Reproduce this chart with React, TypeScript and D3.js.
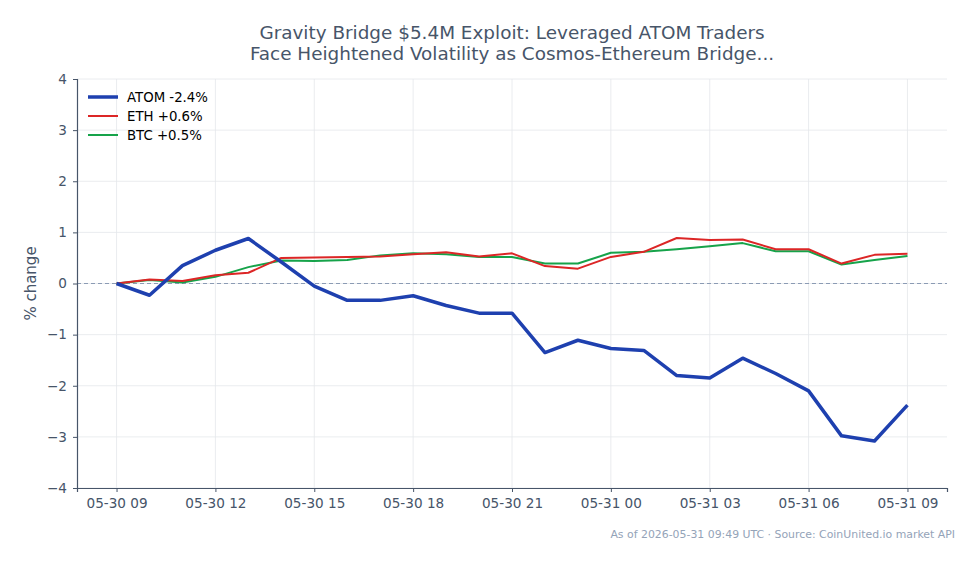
import * as d3 from "d3";
import { useEffect, useRef } from "react";

const hours = d3.range(25); // hours since 05-30 09:00
const atom = [0, -0.23, 0.35, 0.65, 0.88, 0.42, -0.05, -0.33, -0.33, -0.24, -0.43, -0.58, -0.58,
  -1.35, -1.11, -1.27, -1.31, -1.8, -1.85, -1.46, -1.76, -2.1, -2.98, -3.08, -2.38];
const eth = [0, 0.08, 0.05, 0.16, 0.21, 0.5, 0.51, 0.52, 0.53, 0.57, 0.61, 0.53, 0.59,
  0.34, 0.29, 0.52, 0.62, 0.89, 0.85, 0.86, 0.67, 0.67, 0.39, 0.56, 0.58];
const btc = [0, 0.07, 0.02, 0.13, 0.32, 0.45, 0.44, 0.46, 0.55, 0.59, 0.57, 0.52, 0.52,
  0.39, 0.39, 0.6, 0.62, 0.67, 0.73, 0.79, 0.63, 0.63, 0.37, 0.46, 0.54];
const xTickLabels = ["05-30 09", "05-30 12", "05-30 15", "05-30 18", "05-30 21",
  "05-31 00", "05-31 03", "05-31 06", "05-31 09"];
const yTicks = [-4, -3, -2, -1, 0, 1, 2, 3, 4];

const series = [
  { name: "ATOM -2.4%", values: atom, color: "#1e40af", width: 3.5 },
  { name: "ETH +0.6%", values: eth, color: "#dc2626", width: 2 },
  { name: "BTC +0.5%", values: btc, color: "#16a34a", width: 2 },
];

const App = () => {
  const svgRef = useRef<SVGSVGElement>(null);

  useEffect(() => {
    const W = 979, H = 564;
    const margin = { top: 79, right: 32, bottom: 76, left: 77 };
    const width = W - margin.left - margin.right;
    const height = H - margin.top - margin.bottom;
    const font = "DejaVu Sans, sans-serif";
    const ink = "#475569";

    const root = d3.select(svgRef.current);
    root.selectAll("*").remove();
    root.attr("width", W).attr("height", H);
    root.append("rect").attr("width", W).attr("height", H).attr("fill", "#fff");

    const svg = root.append("g").attr("transform", `translate(${margin.left}, ${margin.top})`);

    const x = d3.scaleLinear().domain([-1.2, 25.2]).range([0, width]);
    const y = d3.scaleLinear().domain([-4, 4]).range([height, 0]);
    const xTicks = xTickLabels.map((_, i) => i * 3);

    // grid
    svg.append("g").selectAll("line").data(xTicks).enter().append("line")
      .attr("x1", (d) => x(d)).attr("x2", (d) => x(d)).attr("y1", 0).attr("y2", height)
      .attr("stroke", "#e5e7eb").attr("stroke-width", 0.8);
    svg.append("g").selectAll("line").data(yTicks).enter().append("line")
      .attr("x1", 0).attr("x2", width).attr("y1", (d) => y(d)).attr("y2", (d) => y(d))
      .attr("stroke", "#e5e7eb").attr("stroke-width", 0.8);

    // zero line
    svg.append("line").attr("x1", 0).attr("x2", width).attr("y1", y(0)).attr("y2", y(0))
      .attr("stroke", "#8b9bb4").attr("stroke-width", 1).attr("stroke-dasharray", "4,3");

    // axes
    const xAxis = svg.append("g").attr("transform", `translate(0, ${height})`)
      .call(d3.axisBottom(x).tickValues(xTicks).tickFormat((_, i) => xTickLabels[i]).tickSizeOuter(0).tickSize(4).tickPadding(6));
    const yAxis = svg.append("g")
      .call(d3.axisLeft(y).tickValues(yTicks).tickFormat((d) => (+d < 0 ? "\u2212" + Math.abs(+d) : String(d))).tickSizeOuter(0).tickSize(4).tickPadding(6));
    [xAxis, yAxis].forEach((a) => {
      a.select(".domain").attr("stroke", ink).attr("stroke-width", 1.2);
      a.selectAll(".tick line").attr("stroke", ink);
      a.selectAll(".tick text").attr("fill", ink).attr("font-size", 13.6).attr("font-family", font);
    });

    // lines
    const line = d3.line<number>().x((_, i) => x(hours[i])).y((d) => y(d));
    [...series].reverse().forEach((s) => {
      svg.append("path").datum(s.values).attr("d", line).attr("fill", "none")
        .attr("stroke", s.color).attr("stroke-width", s.width).attr("stroke-linejoin", "round");
    });

    // legend
    const leg = svg.append("g").attr("transform", "translate(11, 18)");
    series.forEach((s, i) => {
      const g = leg.append("g").attr("transform", `translate(0, ${i * 19})`);
      g.append("line").attr("x1", 0).attr("x2", 30).attr("stroke", s.color).attr("stroke-width", s.width);
      g.append("text").attr("x", 39).attr("dy", "0.35em").attr("font-size", 13.3)
        .attr("font-family", font).attr("fill", "#000").text(s.name);
    });

    // y label
    root.append("text").attr("transform", `translate(36, ${margin.top + height / 2}) rotate(-90)`)
      .attr("text-anchor", "middle").attr("font-size", 15).attr("font-family", font)
      .attr("fill", ink).text("% change");

    // title
    const title = ["Gravity Bridge $5.4M Exploit: Leveraged ATOM Traders",
      "Face Heightened Volatility as Cosmos-Ethereum Bridge..."];
    title.forEach((t, i) => {
      root.append("text").attr("x", margin.left + width / 2).attr("y", 39 + i * 21)
        .attr("text-anchor", "middle").attr("font-size", 18.4).attr("font-family", font)
        .attr("fill", ink).text(t);
    });

    // footer
    root.append("text").attr("x", 955).attr("y", 538).attr("text-anchor", "end")
      .attr("font-size", 10.9).attr("font-family", font).attr("fill", "#94a3b8")
      .text("As of 2026-05-31 09:49 UTC \u00b7 Source: CoinUnited.io market API");
  }, []);

  return <svg ref={svgRef} style={{ position: "absolute", left: 0, top: 0 }}></svg>;
};

export default App;
